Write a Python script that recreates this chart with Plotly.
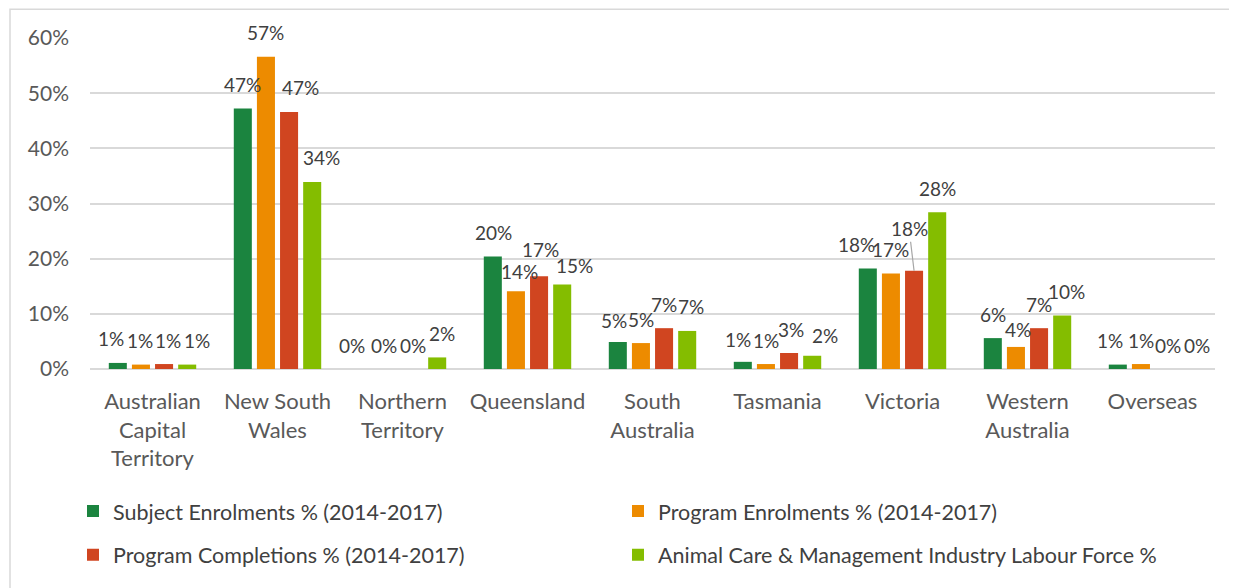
import plotly.graph_objects as go

categories = ["Australian<br>Capital<br>Territory", "New South<br>Wales", "Northern<br>Territory",
              "Queensland", "South<br>Australia", "Tasmania", "Victoria", "Western<br>Australia", "Overseas"]

subject_enrol = [0.011, 0.472, 0.0, 0.204, 0.049, 0.013, 0.182, 0.056, 0.008]
program_enrol = [0.008, 0.566, 0.0, 0.141, 0.047, 0.009, 0.173, 0.040, 0.009]
program_compl = [0.009, 0.466, 0.0, 0.168, 0.074, 0.029, 0.178, 0.074, 0.0]
labour_force = [0.008, 0.339, 0.021, 0.153, 0.069, 0.024, 0.284, 0.097, 0.0]

series_names = ["Subject Enrolments % (2014-2017)", "Program Enrolments % (2014-2017)",
                "Program Completions % (2014-2017)", "Animal Care & Management Industry Labour Force %"]
series_values = [subject_enrol, program_enrol, program_compl, labour_force]
colors = ["#1B843F", "#ED8B00", "#D04520", "#84BD00"]
legends = ["legend", "legend", "legend2", "legend2"]

FONT = "Lato"
TXT = "#404040"

W, H = 1229, 580
ML, MR, MT, MB = 82, 22, 30, 217
PW, PH = W - ML - MR, H - MT - MB
BARGAP, GROUPGAP = 0.26, 0.22
slot = PW / len(categories) * (1 - BARGAP) / len(series_values)  # px per bar within group

# data-label nudges (dx, dy in px) mimicking the original label placement
LABEL_DX = [[-7, -1, 4, 10], [0, 0, 11, 9], [-16, -7, -1, 5], [1, 4, 1, 12], [-4, 0, 0, 4],
            [-5, 0, 2, 13], [-11, 0, -5, 0], [0, 2, 0, 4], [-8, 0, 4, 10]]
LABEL_DY = {(3, 1): -4, (3, 2): 3, (3, 3): -5, (4, 0): -3, (5, 0): -2, (5, 3): -4, (7, 1): -7}
LEADER = {(6, 2): (-5, -42)}  # label with leader line: offset of text from bar top

fig = go.Figure()
for name, vals, col, lg in zip(series_names, series_values, colors, legends):
    fig.add_trace(go.Bar(
        x=categories, y=vals, name=name, marker=dict(color=col, line=dict(width=0)),
        cliponaxis=False, legend=lg, hovertemplate="%{x}: %{y:.1%}<extra></extra>",
    ))

for si, vals in enumerate(series_values):
    base_dx = (si - (len(series_values) - 1) / 2) * slot
    for ci, (cat, v) in enumerate(zip(categories, vals)):
        label = f"{round(v * 100):d}%"
        common = dict(x=cat, y=v, xref="x", yref="y", text=label,
                      font=dict(family=FONT, size=19, color=TXT))
        if (ci, si) in LEADER:
            ax, ay = LEADER[(ci, si)]
            fig.add_annotation(**common, xshift=base_dx, showarrow=True, arrowhead=0,
                               arrowwidth=1.2, arrowcolor="#A6A6A6", ax=ax, ay=ay, standoff=0)
        else:
            fig.add_annotation(**common, showarrow=False, yanchor="middle",
                               xshift=base_dx + LABEL_DX[ci][si],
                               yshift=24 + LABEL_DY.get((ci, si), 0))

leg_common = dict(orientation="h", xanchor="left", yanchor="middle",
                  entrywidth=500, entrywidthmode="pixels",
                  font=dict(family=FONT, size=21.5, color=TXT),
                  traceorder="normal", itemwidth=30, bgcolor="rgba(0,0,0,0)")

fig.update_layout(
    width=W, height=H,
    margin=dict(l=ML, r=MR, t=MT, b=MB),
    paper_bgcolor="white", plot_bgcolor="white",
    barmode="group", bargap=BARGAP, bargroupgap=GROUPGAP,
    font=dict(family=FONT, size=17, color="#595959"),
    showlegend=True,
    legend=dict(x=(65 - ML) / PW, y=(363 - 506) / PH, **leg_common),
    legend2=dict(x=(65 - ML) / PW, y=(363 - 550) / PH, **leg_common),
)
fig.update_xaxes(showgrid=False, ticks="", tickfont=dict(family=FONT, size=22, color="#595959"),
                 ticklabelstandoff=17, showline=False)
fig.update_yaxes(range=[0, 0.6], dtick=0.1, tickformat=".0%", showgrid=True, gridcolor="#D9D9D9",
                 gridwidth=1.5, zeroline=True, zerolinecolor="#D9D9D9", zerolinewidth=1.5,
                 tickfont=dict(family=FONT, size=21, color="#595959"), ticks="", ticklabelstandoff=20)

# outer chart border
fig.add_shape(type="rect", xref="paper", yref="paper",
              x0=(2 - ML) / PW, x1=(1240 - ML) / PW,
              y0=(363 - 620) / PH, y1=(363 - 1) / PH,
              line=dict(color="#D9D9D9", width=1.5), fillcolor="rgba(0,0,0,0)", layer="below")

fig.write_html("out.html")
